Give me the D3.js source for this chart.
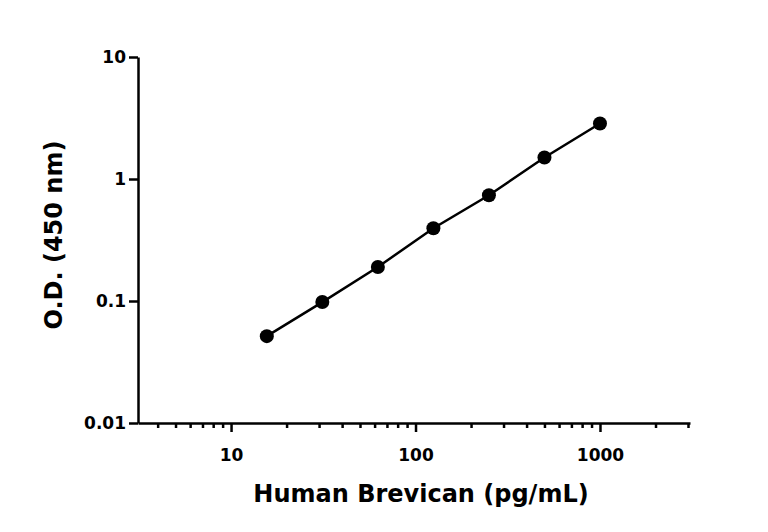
<!DOCTYPE html><html><head><meta charset="utf-8">
<script src="https://cdn.jsdelivr.net/npm/d3@7"></script>
<style>body{margin:0;background:#fff}text{font-family:"DejaVu Sans",sans-serif;font-weight:bold}</style>
</head><body><svg width="768" height="532"></svg><script>
const conc=[15.625,31.25,62.5,125,250,500,1000];
const od=[0.0515,0.098,0.19,0.395,0.735,1.5,2.85];
const xTicks=[10,100,1000];
const yTicks=[0.01,0.1,1,10];
const svg=d3.select("svg");
const x=d3.scaleLog().domain([3.13,3076]).range([138,690]);
const y=d3.scaleLog().domain([0.01,10]).range([423,57]);
const minor=[];for(let d=1;d<=1000;d*=10)for(let k=1;k<10;k++){const v=d*k;if(v>=4&&v<=3000&&!xTicks.includes(v))minor.push(v);}
const gx=svg.append("g").attr("transform","translate(0,423)");
gx.call(d3.axisBottom(x).tickValues(xTicks).tickFormat(d3.format("d")).tickSize(9).tickSizeOuter(0));
gx.append("g").call(d3.axisBottom(x).tickValues(minor).tickFormat("").tickSize(5).tickSizeOuter(0)).select(".domain").remove();
const gy=svg.append("g").attr("transform","translate(138,0)");
gy.call(d3.axisLeft(y).tickValues(yTicks).tickFormat(d=>String(d)).tickSize(9).tickSizeOuter(0));
svg.selectAll(".domain,.tick line").attr("stroke","#000").attr("stroke-width",2.5);
svg.selectAll(".tick text").style("font-size","17px").attr("fill","#000");
gx.selectAll(".tick text").attr("dy","1.5em");
gy.selectAll(".tick text").attr("x",-12);
svg.append("path").datum(conc.map((c,i)=>[c,od[i]])).attr("fill","none").attr("stroke","#000").attr("stroke-width",2.5)
 .attr("d",d3.line().x(d=>x(d[0])).y(d=>y(d[1])));
svg.selectAll("circle.p").data(conc).join("circle").attr("cx",d=>x(d)).attr("cy",(d,i)=>y(od[i])).attr("r",7).attr("fill","#000");
svg.append("text").attr("x",421).attr("y",502).attr("text-anchor","middle").style("font-size","24px").text("Human Brevican (pg/mL)");
svg.append("text").attr("transform","translate(62,235) rotate(-90)").attr("text-anchor","middle").style("font-size","24px").text("O.D. (450 nm)");
</script></body></html>
